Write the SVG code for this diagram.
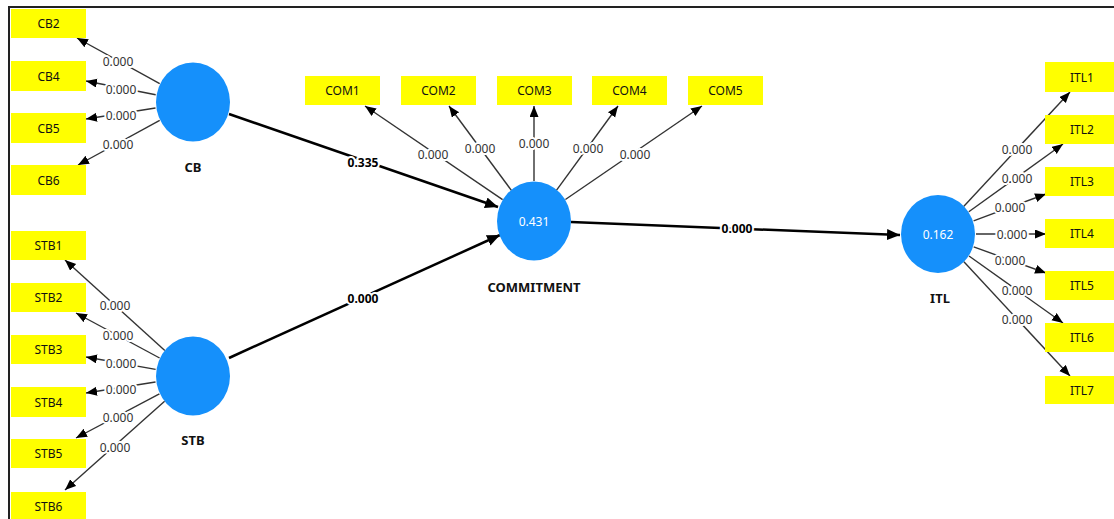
<svg xmlns="http://www.w3.org/2000/svg" width="1114" height="519" viewBox="0 0 1114 519">
<style>
text{font-family:"Noto Sans","Open Sans","DejaVu Sans",sans-serif;}
.box{fill:#FFFF00;}
.bt{font-size:12px;fill:#111;text-anchor:middle;dominant-baseline:central;}
.lv{fill:#1590FB;}
.lvv{font-size:12px;fill:#fff;text-anchor:middle;dominant-baseline:central;}
.lvn{font-size:13px;font-weight:bold;fill:#111;text-anchor:middle;dominant-baseline:central;}
.ld{stroke:#333;stroke-width:1.4;fill:none;marker-end:url(#ah);}
.pt{stroke:#000;stroke-width:2.5;fill:none;marker-end:url(#ahb);}
.ll{font-size:12px;fill:#333;text-anchor:middle;dominant-baseline:central;stroke:#fff;stroke-width:4;paint-order:stroke;stroke-linejoin:round;}
.pl{font-size:12px;font-weight:bold;fill:#000;text-anchor:middle;dominant-baseline:central;stroke:#fff;stroke-width:4;paint-order:stroke;stroke-linejoin:round;}
</style>
<defs>
<marker id="ah" markerUnits="userSpaceOnUse" markerWidth="12" markerHeight="10" refX="11" refY="4.5" orient="auto"><path d="M0,0 L11,4.5 L0,9 z" fill="#000"/></marker>
<marker id="ahb" markerUnits="userSpaceOnUse" markerWidth="14" markerHeight="12" refX="13" refY="5.5" orient="auto"><path d="M0,0 L13,5.5 L0,11 z" fill="#000"/></marker>
</defs>
<rect x="0" y="0" width="1114" height="519" fill="#fff"/>
<g id="frame">
<line x1="9" y1="7" x2="1114" y2="7" stroke="#222" stroke-width="2"/>
<line x1="9" y1="6" x2="9" y2="519" stroke="#222" stroke-width="2"/>
</g>
<g id="connectors">
<line class="ld" x1="159.7" y1="83.6" x2="77" y2="38"/>
<line class="ld" x1="155.7" y1="94.7" x2="86" y2="81"/>
<line class="ld" x1="155.5" y1="108" x2="86" y2="119"/>
<line class="ld" x1="159.7" y1="120.3" x2="78" y2="165"/>
<line class="ld" x1="164.8" y1="350.5" x2="65" y2="260"/>
<line class="ld" x1="159.6" y1="358" x2="76" y2="313"/>
<line class="ld" x1="155.6" y1="369.4" x2="86" y2="357"/>
<line class="ld" x1="155.5" y1="382" x2="86" y2="393"/>
<line class="ld" x1="159.4" y1="393.8" x2="76" y2="438"/>
<line class="ld" x1="164.6" y1="401.3" x2="65" y2="490"/>
<line class="ld" x1="502.6" y1="199.6" x2="365" y2="106"/>
<line class="ld" x1="511.4" y1="190.4" x2="449" y2="106"/>
<line class="ld" x1="534" y1="181" x2="534" y2="106"/>
<line class="ld" x1="556.4" y1="190.3" x2="618" y2="106"/>
<line class="ld" x1="565.4" y1="199.5" x2="702" y2="106"/>
<line class="ld" x1="963.9" y1="206.2" x2="1070" y2="92"/>
<line class="ld" x1="968.8" y1="211.8" x2="1063" y2="144"/>
<line class="ld" x1="973.6" y1="220.8" x2="1046" y2="194"/>
<line class="ld" x1="976" y1="234" x2="1046" y2="234"/>
<line class="ld" x1="973.7" y1="246.9" x2="1046" y2="273"/>
<line class="ld" x1="969" y1="256" x2="1063" y2="323"/>
<line class="ld" x1="963.9" y1="261.8" x2="1070" y2="376"/>
<line class="pt" x1="229" y1="114" x2="498" y2="207"/>
<line class="pt" x1="229" y1="358" x2="500" y2="235"/>
<line class="pt" x1="571" y1="222" x2="900" y2="235"/>
<text class="ll" x="118" y="61">0.000</text>
<text class="ll" x="121" y="89">0.000</text>
<text class="ll" x="121" y="115">0.000</text>
<text class="ll" x="118" y="144">0.000</text>
<text class="ll" x="115" y="305">0.000</text>
<text class="ll" x="118" y="335">0.000</text>
<text class="ll" x="121" y="363">0.000</text>
<text class="ll" x="121" y="389">0.000</text>
<text class="ll" x="118" y="417">0.000</text>
<text class="ll" x="115" y="447">0.000</text>
<text class="ll" x="433" y="154">0.000</text>
<text class="ll" x="480" y="148">0.000</text>
<text class="ll" x="534" y="143">0.000</text>
<text class="ll" x="588" y="148">0.000</text>
<text class="ll" x="635" y="154">0.000</text>
<text class="ll" x="1017" y="149">0.000</text>
<text class="ll" x="1017" y="178">0.000</text>
<text class="ll" x="1010" y="207">0.000</text>
<text class="ll" x="1012" y="234">0.000</text>
<text class="ll" x="1010" y="260">0.000</text>
<text class="ll" x="1017" y="290">0.000</text>
<text class="ll" x="1017" y="319">0.000</text>
<text class="pl" x="363" y="162">0.335</text>
<text class="pl" x="363" y="298">0.000</text>
<text class="pl" x="737" y="228">0.000</text>
</g>
<g id="CB"><ellipse class="lv" cx="193" cy="102" rx="37" ry="39.5"/><text class="lvn" x="193" y="167">CB</text></g>
<g id="STB"><ellipse class="lv" cx="193" cy="376" rx="37" ry="39.5"/><text class="lvn" x="193" y="440">STB</text></g>
<g id="COMMITMENT"><ellipse class="lv" cx="534" cy="221" rx="37" ry="39.5"/><text class="lvv" x="534" y="221">0.431</text><text class="lvn" x="534" y="287">COMMITMENT</text></g>
<g id="ITL"><ellipse class="lv" cx="938" cy="234" rx="37" ry="39"/><text class="lvv" x="938" y="234">0.162</text><text class="lvn" x="940" y="298">ITL</text></g>
<g id="CB2"><rect class="box" x="11" y="9" width="75" height="29"/><text class="bt" x="48.5" y="23.5">CB2</text></g>
<g id="CB4"><rect class="box" x="11" y="61" width="75" height="30"/><text class="bt" x="48.5" y="76">CB4</text></g>
<g id="CB5"><rect class="box" x="11" y="113" width="75" height="30"/><text class="bt" x="48.5" y="128">CB5</text></g>
<g id="CB6"><rect class="box" x="11" y="165" width="75" height="30"/><text class="bt" x="48.5" y="180">CB6</text></g>
<g id="STB1"><rect class="box" x="11" y="231" width="75" height="29"/><text class="bt" x="48.5" y="245.5">STB1</text></g>
<g id="STB2"><rect class="box" x="11" y="283" width="75" height="29"/><text class="bt" x="48.5" y="297.5">STB2</text></g>
<g id="STB3"><rect class="box" x="11" y="335" width="75" height="29"/><text class="bt" x="48.5" y="349.5">STB3</text></g>
<g id="STB4"><rect class="box" x="11" y="387" width="75" height="30"/><text class="bt" x="48.5" y="402">STB4</text></g>
<g id="STB5"><rect class="box" x="11" y="439" width="75" height="29"/><text class="bt" x="48.5" y="453.5">STB5</text></g>
<g id="STB6"><rect class="box" x="11" y="492" width="75" height="29"/><text class="bt" x="48.5" y="506.5">STB6</text></g>
<g id="COM1"><rect class="box" x="305" y="76" width="75" height="29"/><text class="bt" x="342.5" y="90.5">COM1</text></g>
<g id="COM2"><rect class="box" x="401" y="76" width="75" height="29"/><text class="bt" x="438.5" y="90.5">COM2</text></g>
<g id="COM3"><rect class="box" x="497" y="76" width="75" height="29"/><text class="bt" x="534.5" y="90.5">COM3</text></g>
<g id="COM4"><rect class="box" x="592" y="76" width="75" height="29"/><text class="bt" x="629.5" y="90.5">COM4</text></g>
<g id="COM5"><rect class="box" x="688" y="76" width="75" height="29"/><text class="bt" x="725.5" y="90.5">COM5</text></g>
<g id="ITL1"><rect class="box" x="1045" y="62" width="75" height="30"/><text class="bt" x="1082" y="77">ITL1</text></g>
<g id="ITL2"><rect class="box" x="1045" y="115" width="75" height="29"/><text class="bt" x="1082" y="129.5">ITL2</text></g>
<g id="ITL3"><rect class="box" x="1045" y="167" width="75" height="29"/><text class="bt" x="1082" y="181.5">ITL3</text></g>
<g id="ITL4"><rect class="box" x="1045" y="219" width="75" height="29"/><text class="bt" x="1082" y="233.5">ITL4</text></g>
<g id="ITL5"><rect class="box" x="1045" y="271" width="75" height="29"/><text class="bt" x="1082" y="285.5">ITL5</text></g>
<g id="ITL6"><rect class="box" x="1045" y="323" width="75" height="29"/><text class="bt" x="1082" y="337.5">ITL6</text></g>
<g id="ITL7"><rect class="box" x="1045" y="376" width="75" height="28"/><text class="bt" x="1082" y="390">ITL7</text></g>
</svg>
